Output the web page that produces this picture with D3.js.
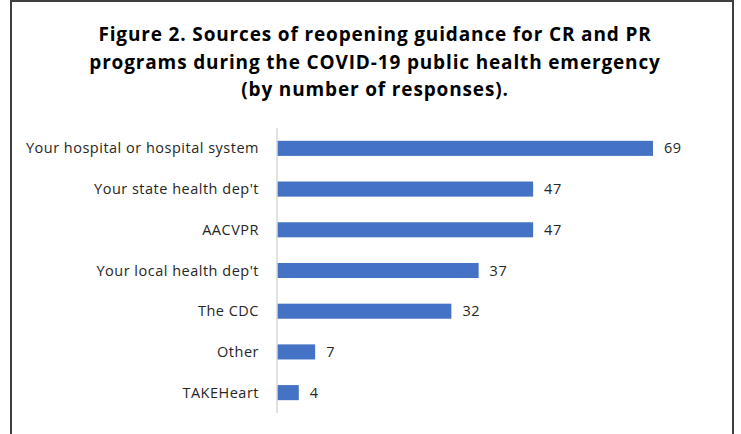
<!DOCTYPE html>
<html>
<head>
<meta charset="utf-8">
<script src="https://cdn.jsdelivr.net/npm/d3@7"></script>
<style>
  body { margin: 0; background: #fff; }
</style>
</head>
<body>
<div id="chart"></div>
<script>
const categories = [
    'Your hospital or hospital system',
    "Your state health dep't",
    'AACVPR',
    "Your local health dep't",
    'The CDC',
    'Other',
    'TAKEHeart',
];
const responses = [69, 47, 47, 37, 32, 7, 4];
const titleLines = [
    'Figure 2. Sources of reopening guidance for CR and PR',
    'programs during the COVID-19 public health emergency',
    '(by number of responses).',
];

const W = 741, H = 434;
const margins = { top: 128, right: 81, bottom: 21, left: 277 };
const height = H - margins.top - margins.bottom;

const root = d3.select('#chart')
    .append('svg')
    .attr('width', W)
    .attr('height', H);

// frame, open at the bottom like the cropped screenshot
root.append('path')
    .attr('d', `M11,${H} V1 H733 V${H}`)
    .attr('fill', 'none')
    .attr('stroke', '#404040')
    .attr('stroke-width', 2);

root.append('g')
    .selectAll('text')
    .data(titleLines)
    .enter()
    .append('text')
    .attr('x', 375)
    .attr('y', (d, i) => 41 + i * 27.5)
    .attr('text-anchor', 'middle')
    .style('font-family', "'Open Sans', sans-serif")
    .style('font-weight', 'bold')
    .style('font-size', '19px')
    .style('letter-spacing', '0.85px')
    .style('fill', '#000')
    .text((d) => d);

const svg = root.append('g')
    .attr('transform', `translate(${margins.left},${margins.top})`);

// 69 responses -> ~376px
const x = d3.scaleLinear().domain([0, 69]).range([0, 376]);

const y = d3.scaleBand()
    .domain(categories)
    .range([0, height])
    .paddingInner(0.63)
    .paddingOuter(0.315);

svg.selectAll('.bar')
    .data(responses)
    .enter()
    .append('rect')
    .attr('class', 'bar')
    .attr('x', 0)
    .attr('y', (d, i) => y(categories[i]))
    .attr('width', (d) => x(d) - x(0))
    .attr('height', y.bandwidth())
    .style('fill', '#4472c4');

svg.append('line')
    .attr('x1', 0).attr('x2', 0)
    .attr('y1', 0).attr('y2', height)
    .attr('stroke', '#d9d9d9')
    .attr('stroke-width', 1.5);

svg.selectAll('.cat')
    .data(categories)
    .enter()
    .append('text')
    .attr('class', 'cat')
    .attr('x', -18)
    .attr('y', (d) => y(d) + y.bandwidth() / 2)
    .attr('dy', '0.35em')
    .attr('text-anchor', 'end')
    .style('font-family', "'Open Sans', sans-serif")
    .style('font-size', '14.5px')
    .style('letter-spacing', '0.5px')
    .style('fill', '#262626')
    .text((d) => d);

svg.selectAll('.val')
    .data(responses)
    .enter()
    .append('text')
    .attr('class', 'val')
    .attr('x', (d) => x(d) + 11)
    .attr('y', (d, i) => y(categories[i]) + y.bandwidth() / 2)
    .attr('dy', '0.35em')
    .style('font-family', "'Open Sans', sans-serif")
    .style('font-size', '14.5px')
    .style('letter-spacing', '0.5px')
    .style('fill', '#262626')
    .text((d) => d);
</script>
</body>
</html>
